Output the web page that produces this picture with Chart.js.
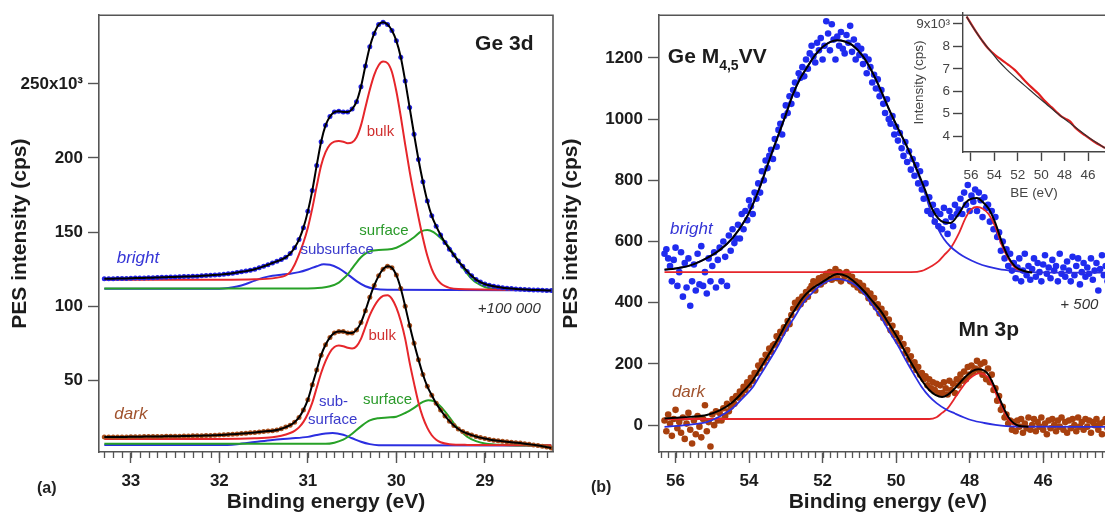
<!DOCTYPE html>
<html>
<head>
<meta charset="utf-8">
<script src="https://cdn.jsdelivr.net/npm/chart.js@4.4.0/dist/chart.umd.min.js"></script>
<style>
  html, body { margin: 0; padding: 0; background: #fff; overflow: hidden; width: 1105px; height: 514px; }
  canvas { position: absolute; }
  .tag { position: absolute; font: bold 16px "Liberation Sans", Arial, sans-serif; color: #222; }
</style>
</head>
<body>
<canvas id="ge3d" width="560" height="514" style="left:0;top:0"></canvas>
<canvas id="mvv" width="560" height="514" style="left:560px;top:0"></canvas>
<canvas id="inset" width="240" height="210" style="left:880px;top:0"></canvas>
<div class="tag" style="left:37px;top:479px">(a)</div>
<div class="tag" style="left:591px;top:478px">(b)</div>
<script>
// ---- tick values
const geXTicks = [33, 32, 31, 30, 29];
const geYTicks = [50, 100, 150, 200, 250];
const mvvXTicks = [56, 54, 52, 50, 48, 46];
const mvvYTicks = [0, 200, 400, 600, 800, 1000, 1200];
const insetXTicks = [56, 54, 52, 50, 48, 46];
const insetYTicks = [4, 5, 6, 7, 8, 9];

// ---- (a) Ge 3d: measured spectra, 0.05 eV grid from 33.30 eV down to 28.25 eV (x10^3 cps)
const geStart = 33.30, geStep = 0.05;
const geBright = [
  118.5, 118.6, 118.6, 118.7, 118.8, 118.8, 118.9, 119.0, 119.0, 119.1,
  119.2, 119.3, 119.4, 119.5, 119.6, 119.7, 119.8, 119.9, 120.0, 120.1,
  120.2, 120.3, 120.5, 120.7, 120.9, 121.1, 121.3, 121.6, 121.9, 122.3,
  122.7, 123.2, 123.7, 124.3, 125.0, 125.9, 126.9, 128.0, 129.2, 130.3,
  131.5, 133.0, 135.5, 139.5, 145, 153, 164, 178, 195, 211,
  222, 228, 231, 231.5, 231, 231, 233, 238, 248, 262,
  275, 284, 290, 291.5, 290, 286, 279, 268, 252, 234,
  216, 199, 184, 171, 161, 154, 148, 143, 138.5, 134.5,
  130.5, 127, 123.5, 120.5, 118, 116.3, 115, 114.2, 113.5, 113,
  112.5, 112.2, 111.9, 111.7, 111.5, 111.3, 111.1, 111.0, 110.9, 110.8,
  110.7, 110.6
];
const geDark = [
  11.8, 11.8, 11.8, 11.9, 11.9, 11.9, 12.0, 12.0, 12.0, 12.1,
  12.1, 12.1, 12.2, 12.2, 12.3, 12.3, 12.4, 12.4, 12.5, 12.5,
  12.6, 12.6, 12.7, 12.8, 12.9, 13.0, 13.1, 13.3, 13.5, 13.7,
  13.9, 14.1, 14.3, 14.6, 14.9, 15.2, 15.5, 15.8, 16.1, 16.6,
  17.4, 18.5, 19.8, 21.8, 25, 30, 37, 47, 57, 67,
  74, 79, 82, 83, 83, 82, 82, 84, 89, 97,
  106, 114, 120.5, 125, 127, 126, 121, 112, 100, 87,
  75, 64, 54, 46, 40, 34.5, 30, 26, 22.5, 19.5,
  17.2, 15.5, 14.2, 13.1, 12.2, 11.4, 10.8, 10.2, 9.7, 9.3,
  9.0, 8.6, 8.3, 8.0, 7.7, 7.3, 6.9, 6.5, 6.1, 5.6,
  5.0, 4.4
];
// fitted components [BE, intensity]
const bulkBright = [[33.30,117.8],[32.00,117.9],[31.60,118.2],[31.40,118.8],[31.30,119.8],[31.25,120.8],[31.20,123],[31.15,128],[31.10,135],[31.05,143],[31.00,153],[30.95,166],[30.90,181],[30.85,195],[30.80,204],[30.75,209],[30.70,211],[30.65,211.5],[30.60,211],[30.55,210],[30.50,210.5],[30.45,214],[30.40,222],[30.35,234],[30.30,246],[30.25,256],[30.20,262.5],[30.15,265],[30.10,264],[30.05,258],[30.00,245],[29.95,228],[29.90,209],[29.85,191],[29.80,175],[29.75,160],[29.70,146],[29.65,134],[29.60,125],[29.55,119],[29.50,115.5],[29.45,113.5],[29.40,112.4],[29.30,111.6],[28.25,111]];
const surfBright = [[33.30,112],[31.00,112],[30.85,112.5],[30.75,113.5],[30.65,116],[30.60,118.5],[30.55,121.5],[30.50,125.5],[30.45,129.5],[30.40,133],[30.35,135.5],[30.30,137],[30.20,138],[30.10,138.2],[30.00,139.5],[29.90,142.5],[29.80,146.5],[29.72,150.5],[29.65,151.5],[29.58,150],[29.50,146],[29.45,143],[29.40,139.5],[29.35,135],[29.30,130.5],[29.25,126],[29.20,122],[29.15,118.5],[29.10,116],[29.00,113],[28.90,111.8],[28.25,111]];
const subBright = [[33.30,111.8],[32.00,111.8],[31.90,112.3],[31.80,113.3],[31.70,115],[31.60,117.3],[31.50,119.3],[31.40,120.6],[31.30,121.3],[31.20,121.9],[31.10,123],[31.00,124.8],[30.90,127],[30.82,128.3],[30.75,128],[30.65,125.5],[30.55,121.5],[30.45,117],[30.35,113.5],[30.25,111.8],[30.10,111.1],[28.25,110.8]];
const bulkDark = [[33.30,10.4],[32.00,10.5],[31.60,10.9],[31.40,11.6],[31.30,12.6],[31.20,14.5],[31.15,16],[31.10,18.3],[31.05,22],[31.00,27.5],[30.95,35],[30.90,45],[30.85,55],[30.80,63],[30.75,69],[30.70,72.5],[30.65,73.5],[30.60,73],[30.55,72],[30.50,71.5],[30.45,73],[30.40,78],[30.35,86],[30.30,94],[30.25,100],[30.20,104.5],[30.15,107],[30.10,107.5],[30.05,105],[30.00,99],[29.95,90],[29.90,78],[29.85,62],[29.80,48],[29.75,35],[29.70,25],[29.65,18],[29.60,13],[29.55,10],[29.50,8.3],[29.40,7],[29.20,6.5],[28.25,6.3]];
const surfDark = [[33.30,7.2],[30.80,7.2],[30.70,8],[30.60,10],[30.50,14],[30.40,19],[30.30,23],[30.20,24.5],[30.10,25],[30.00,25.5],[29.90,28],[29.80,31.5],[29.70,35.5],[29.64,36.6],[29.58,36],[29.52,33.5],[29.45,29],[29.40,25],[29.35,21],[29.30,17.5],[29.20,12],[29.10,9],[29.00,7.5],[28.80,6.5],[28.25,6]];
const subDark = [[33.30,6.4],[32.00,6.4],[31.80,7],[31.60,8.4],[31.40,9.8],[31.20,10.8],[31.00,11.9],[30.90,13.2],[30.80,14.2],[30.72,14.5],[30.60,13.3],[30.50,11],[30.40,8.6],[30.30,7],[30.20,6.3],[28.25,6]];

// ---- (b) Ge M4,5VV / Mn 3p: measured spectra, 0.05 eV grid from 56.30 eV down to 44.00 eV (cps)
const mvvStart = 56.30, mvvStep = 0.05;
const mvvBright = [
  560, 575, 545, 520, 470, 540, 580, 455, 500, 565,
  420, 530, 450, 545, 390, 470, 525, 440, 560, 460,
  585, 455, 500, 430, 545, 470, 520, 565, 450, 540,
  580, 470, 600, 550, 455, 620, 570, 640, 595, 610,
  655, 610, 690, 640, 700, 670, 735, 715, 690, 760,
  740, 790, 760, 830, 800, 865, 840, 880, 900, 870,
  935, 910, 965, 985, 950, 1010, 1045, 1020, 1075, 1050,
  1095, 1120, 1080, 1150, 1135, 1170, 1140, 1195, 1165, 1215,
  1240, 1205, 1185, 1250, 1225, 1265, 1195, 1240, 1320, 1280,
  1225, 1310, 1260, 1195, 1270, 1240, 1285, 1230, 1215, 1275,
  1250, 1305, 1220, 1260, 1195, 1240, 1210, 1230, 1180, 1205,
  1150, 1195, 1170, 1120, 1145, 1100, 1130, 1075, 1095, 1050,
  1020, 1065, 1000, 985, 1010, 950, 975, 930, 955, 905,
  880, 925, 860, 895, 835, 870, 815, 850, 790, 830,
  770, 740, 790, 700, 745, 690, 720, 665, 700, 650,
  690, 640, 710, 665, 625, 700, 680, 650, 720, 690,
  705, 740, 690, 760, 720, 785, 700, 750, 730, 770,
  700, 760, 735, 680, 745, 710, 720, 665, 700, 640,
  680, 615, 630, 570, 600, 545, 575, 520, 560, 505,
  530, 480, 515, 545, 470, 505, 560, 490, 520, 475,
  510, 545, 485, 530, 500, 470, 525, 555, 495, 515,
  480, 540, 505, 520, 470, 560, 495, 515, 485, 535,
  505, 470, 550, 490, 520, 545, 460, 500, 530, 485,
  515, 495, 545, 475, 505, 530, 440, 510, 555, 490,
  520, 470, 505, 540, 485, 515, 500
];
const mvvDark = [
  15, -20, 35, 5, -35, 20, 50, -10, 10, -25,
  25, -45, 5, 40, -15, -60, 15, -30, 30, -5,
  -40, 20, 65, -20, 10, -70, 35, 0, 45, 15,
  40, 15, 55, 30, 70, 45, 60, 85, 70, 95,
  90, 110, 100, 125, 115, 140, 130, 155, 145, 170,
  170, 195, 185, 210, 205, 230, 220, 250, 240, 260,
  265, 290, 280, 305, 300, 320, 315, 340, 330, 360,
  380, 400, 385, 410, 395, 420, 410, 435, 420, 445,
  455, 470, 440, 465, 480, 460, 485, 470, 495, 480,
  500, 475, 495, 510, 480, 500, 470, 495, 485, 500,
  490, 470, 485, 460, 470, 450, 465, 440, 455, 435,
  440, 415, 430, 400, 415, 385, 395, 365, 380, 350,
  365, 335, 345, 310, 325, 295, 300, 275, 285, 260,
  265, 235, 245, 215, 225, 195, 205, 180, 190, 165,
  170, 150, 160, 130, 150, 120, 140, 115, 135, 105,
  130, 105, 140, 120, 100, 145, 115, 135, 105, 150,
  130, 165, 145, 175, 150, 190, 165, 195, 175, 185,
  210, 180, 200, 165, 205, 150, 185, 140, 165, 115,
  120, 80, 95, 50, 60, 25, 35, 5, 15, -15,
  10, -20, 15, -5, 20, -25, 5, -10, 25, -15,
  0, 20, -20, 10, -5, 25, -15, 5, -30, 15,
  -10, 20, 0, -20, 15, -5, 25, -15, 10, -25,
  15, -10, 20, 0, -20, 25, -5, 10, -15, 20,
  -5, 15, -25, 10, 0, 20, -15, 5, -30, 10,
  20, -10, 5, -20, 15, 0, -35
];
const fitBright = [[56.30,508],[56.00,512],[55.60,522],[55.15,546],[54.80,572],[54.45,611],[54.10,672],[53.90,721],[53.70,780],[53.53,839],[53.35,900],[53.17,959],[53.00,1015],[52.81,1080],[52.60,1135],[52.45,1164],[52.20,1210],[52.00,1236],[51.80,1252],[51.60,1258],[51.40,1254],[51.19,1242],[50.90,1205],[50.65,1154],[50.40,1090],[50.20,1034],[49.95,970],[49.73,917],[49.55,868],[49.38,819],[49.20,765],[49.03,709],[48.85,675],[48.70,663],[48.52,661],[48.30,690],[48.10,728],[47.95,740],[47.80,742],[47.65,730],[47.48,707],[47.30,660],[47.13,600],[46.95,550],[46.76,518],[46.50,503],[46.30,499]];
const augerBright = [[56.30,508],[56.00,512],[55.60,522],[55.15,546],[54.80,572],[54.45,611],[54.10,672],[53.90,721],[53.70,780],[53.53,839],[53.35,900],[53.17,959],[53.00,1015],[52.81,1080],[52.60,1135],[52.45,1164],[52.20,1210],[52.00,1236],[51.80,1252],[51.60,1258],[51.40,1254],[51.19,1242],[50.90,1205],[50.65,1154],[50.40,1090],[50.20,1034],[49.95,970],[49.73,917],[49.55,866],[49.38,813],[49.20,752],[49.03,689],[48.85,640],[48.70,608],[48.52,583],[48.30,562],[48.10,547],[47.80,530],[47.50,518],[47.20,510],[46.80,504],[46.40,500],[44.00,498]];
const mn3pBright = [[56.30,500],[49.60,500],[49.30,504],[49.03,520],[48.85,535],[48.70,555],[48.52,578],[48.30,625],[48.10,680],[47.95,706],[47.80,713],[47.65,708],[47.48,689],[47.30,648],[47.13,590],[46.95,545],[46.76,514],[46.55,503],[46.30,500]];
const fitDark = [[56.30,22],[56.00,24],[55.60,27],[55.15,33],[54.80,48],[54.45,75],[54.20,105],[53.90,146],[53.70,185],[53.45,234],[53.20,285],[52.99,332],[52.75,378],[52.54,416],[52.30,445],[52.08,462],[51.85,480],[51.60,494],[51.35,487],[51.09,464],[50.85,435],[50.65,406],[50.40,370],[50.20,332],[49.95,283],[49.73,234],[49.50,185],[49.30,146],[49.10,115],[48.92,98],[48.75,92],[48.60,99],[48.45,114],[48.30,134],[48.10,160],[47.94,176],[47.76,183],[47.60,178],[47.48,163],[47.35,132],[47.20,91],[47.05,50],[46.94,25],[46.80,6],[46.67,-2],[46.40,-5]];
const augerDark = [[56.30,-6],[55.60,2],[55.15,10],[54.80,28],[54.45,55],[54.20,85],[53.90,124],[53.70,163],[53.45,211],[53.20,262],[52.99,309],[52.75,356],[52.54,397],[52.30,430],[52.08,455],[51.85,471],[51.60,478],[51.35,472],[51.09,456],[50.85,426],[50.65,392],[50.40,350],[50.20,309],[49.95,260],[49.73,211],[49.50,163],[49.30,124],[49.10,94],[48.90,72],[48.65,52],[48.40,38],[48.15,25],[47.94,16],[47.60,7],[47.30,1],[47.00,-3],[46.50,-5],[44.00,-6]];
const mn3pDark = [[56.30,20],[49.10,20],[48.90,26],[48.75,40],[48.60,55],[48.45,80],[48.30,107],[48.10,140],[47.94,158],[47.75,169],[47.60,165],[47.48,153],[47.35,120],[47.20,81],[47.05,42],[46.94,18],[46.80,3],[46.67,-3],[46.40,-5]];

// ---- inset: raw background region (x10^3 cps)
const insetRaw = [[56.37,9.33],[55.50,8.60],[55.09,8.29],[54.60,7.95],[54.20,7.74],[53.80,7.56],[53.38,7.40],[52.80,7.18],[52.24,6.94],[51.80,6.70],[51.38,6.46],[50.80,6.16],[50.25,5.90],[49.70,5.57],[49.10,5.28],[48.60,5.03],[48.25,4.87],[47.80,4.74],[47.50,4.64],[47.20,4.44],[46.90,4.29],[46.30,4.05],[45.50,3.76],[44.55,3.47]];
const insetBg = [[56.37,9.33],[56.00,9.00],[55.50,8.60],[55.09,8.29],[54.50,7.90],[54.00,7.58],[53.66,7.36],[53.00,7.00],[52.50,6.75],[51.96,6.50],[51.00,6.07],[50.25,5.73],[49.50,5.40],[48.82,5.10],[48.00,4.76],[47.40,4.52],[46.70,4.24],[45.97,3.95],[45.20,3.68],[44.55,3.47]];

const FONT = '"Liberation Sans", Arial, Helvetica, sans-serif';
const AXIS = '#555';
const INK = '#1c1c1c';
const RED = '#e6262b', GREEN = '#27a127', BLUE = '#2b2ee0';

const pts = pairs => pairs.map(([x, y]) => ({ x, y }));
const onGrid = (start, step, vals) => vals.map((y, i) => ({ x: +(start - i * step).toFixed(2), y }));

function curve(data, color, width, order) {
  return { data, borderColor: color, borderWidth: width, pointRadius: 0, fill: false,
           cubicInterpolationMode: 'monotone', order };
}
function dots(data, color, r, order) {
  return { data, showLine: false, pointRadius: r, pointHoverRadius: r, pointBackgroundColor: color,
           pointBorderWidth: 0, borderColor: color, order };
}

// top + right edges of the plot box
const frame = {
  id: 'frame',
  afterDraw(chart, args, opts) {
    if (!opts.on) return;
    const { ctx, chartArea: a } = chart;
    ctx.save();
    ctx.strokeStyle = AXIS; ctx.lineWidth = 1.6;
    ctx.beginPath();
    ctx.moveTo(a.left, a.top); ctx.lineTo(a.right, a.top); ctx.lineTo(a.right, a.bottom);
    ctx.stroke();
    ctx.restore();
  }
};

// short minor tick marks under the x axis
const minorTicks = {
  id: 'minorTicks',
  afterDraw(chart, args, opts) {
    if (!opts.step) return;
    const x = chart.scales.x, ctx = chart.ctx;
    const lo = Math.ceil(x.min / opts.step - 1e-6), hi = Math.floor(x.max / opts.step + 1e-6);
    ctx.save();
    ctx.strokeStyle = AXIS; ctx.lineWidth = 1.3;
    ctx.beginPath();
    for (let k = lo; k <= hi; k++) {
      const px = Math.round(x.getPixelForValue(k * opts.step)) + 0.5;
      ctx.moveTo(px, x.top); ctx.lineTo(px, x.top + opts.len);
    }
    ctx.stroke();
    ctx.restore();
  }
};

// text placed at data coordinates
function textLayer(items) {
  return {
    id: 'textLayer',
    afterDatasetsDraw(chart) {
      const { ctx, scales: { x, y } } = chart;
      ctx.save();
      ctx.textBaseline = 'middle';
      for (const it of items) {
        const runs = it.runs || [[it.text, it.size, 0]];
        const fonts = runs.map(r => `${it.style || 'normal'} ${it.weight || 'normal'} ${r[1]}px ${FONT}`);
        let w = 0;
        runs.forEach((r, i) => { ctx.font = fonts[i]; w += ctx.measureText(r[0]).width; });
        let px = x.getPixelForValue(it.x);
        const py = y.getPixelForValue(it.y);
        if (it.align === 'right') px -= w; else if (it.align !== 'left') px -= w / 2;
        ctx.fillStyle = it.color;
        runs.forEach((r, i) => { ctx.font = fonts[i]; ctx.fillText(r[0], px, py + r[2]); px += ctx.measureText(r[0]).width; });
      }
      ctx.restore();
    }
  };
}

function axis(o) {
  return {
    type: 'linear', min: o.min, max: o.max, reverse: !!o.reverse,
    afterFit: o.fit,
    afterBuildTicks: s => { s.ticks = o.values.map(v => ({ value: v })); },
    grid: { display: true, drawOnChartArea: false, drawTicks: true, tickLength: o.tick, tickColor: o.color || AXIS, tickWidth: 1.4 },
    border: { display: true, color: o.color || AXIS, width: o.lw || 1.6 },
    ticks: { autoSkip: false, maxRotation: 0, padding: o.pad,
             color: o.ink || INK, font: o.font, callback: o.label || (v => String(v)) },
    title: { display: true, text: o.title, color: o.ink || INK, font: o.titleFont, padding: o.titlePad }
  };
}

const tickFont = { family: FONT, size: 17, weight: 'bold' };
const titleFont = { family: FONT, size: 21, weight: 'bold', lineHeight: 1.1 };

const geLabels = [
  { text: 'Ge 3d', x: 29.11, y: 276.8, size: 21, weight: 'bold', color: INK, align: 'left' },
  { text: 'bright', x: 32.92, y: 132.6, size: 17, style: 'italic', color: '#3434d6' },
  { text: 'subsurface', x: 30.67, y: 138, size: 15, color: '#3a3acc' },
  { text: 'surface', x: 30.14, y: 151, size: 15, color: '#2a9a2a' },
  { text: 'bulk', x: 30.18, y: 217.8, size: 15, color: '#d03030' },
  { text: '+100 000', x: 29.08, y: 98.4, size: 15, style: 'italic', color: '#333', align: 'left' },
  { text: 'dark', x: 33.0, y: 27, size: 17, style: 'italic', color: '#a0522d' },
  { text: 'bulk', x: 30.16, y: 80.2, size: 15, color: '#d03030' },
  { text: 'sub-', x: 30.71, y: 35.4, size: 15, color: '#3a3acc' },
  { text: 'surface', x: 30.72, y: 23.2, size: 15, color: '#3a3acc' },
  { text: 'surface', x: 30.10, y: 36.6, size: 15, color: '#2a9a2a' }
];
const mvvLabels = [
  { runs: [['Ge M', 21, 0], ['4,5', 14, 9], ['VV', 21, 0]], x: 56.21, y: 1203, weight: 'bold', color: INK, align: 'left' },
  { text: 'bright', x: 55.57, y: 641, size: 17, style: 'italic', color: '#3434d6' },
  { text: '+ 500', x: 44.5, y: 393, size: 15, style: 'italic', color: '#333', align: 'right' },
  { text: 'Mn 3p', x: 47.48, y: 309, size: 21, weight: 'bold', color: INK },
  { text: 'dark', x: 55.65, y: 107, size: 17, style: 'italic', color: '#a0522d' }
];

const base = { responsive: false, animation: false, devicePixelRatio: 1, events: [] };

// (a) Ge 3d
new Chart(document.getElementById('ge3d'), {
  type: 'line',
  data: { datasets: [
    curve(pts(bulkBright), RED, 2, 3), curve(pts(surfBright), GREEN, 2, 3), curve(pts(subBright), BLUE, 2, 3),
    curve(pts(bulkDark), RED, 2, 3), curve(pts(surfDark), GREEN, 2, 3), curve(pts(subDark), BLUE, 2, 3),
    dots(onGrid(geStart, geStep, geBright), '#2424e6', 2.5, 2),
    dots(onGrid(geStart, geStep, geDark), '#a8501e', 2.5, 2),
    curve(onGrid(geStart, geStep, geBright), '#000', 2, 1),
    curve(onGrid(geStart, geStep, geDark), '#000', 2, 1)
  ]},
  options: { ...base,
    layout: { padding: { left: 0, top: 13, right: 7, bottom: 0 } },
    plugins: { legend: { display: false }, tooltip: { enabled: false }, frame: { on: true }, minorTicks: { step: 0.1, len: 6 } },
    scales: {
      x: axis({ min: 28.23, max: 33.36, reverse: true, values: geXTicks, tick: 11, pad: 8, font: tickFont,
                fit: s => { s.height = 62; }, title: 'Binding energy (eV)', titleFont, titlePad: { top: 0, bottom: 0 } }),
      y: axis({ min: 1.7, max: 296.3, values: geYTicks, tick: 11, pad: 5, font: tickFont,
                label: v => v === 250 ? '250x10³' : String(v),
                fit: s => { s.width = 99; }, title: 'PES intensity (cps)', titleFont, titlePad: { top: 8.5, bottom: 0 } })
    }
  },
  plugins: [frame, minorTicks, textLayer(geLabels)]
});

// (b) Ge M4,5VV and Mn 3p
new Chart(document.getElementById('mvv'), {
  type: 'line',
  data: { datasets: [
    dots(onGrid(mvvStart, mvvStep, mvvBright), '#1f2bef', 3.3, 3),
    dots(onGrid(mvvStart, mvvStep, mvvDark), '#a8400e', 3.3, 3),
    curve(pts(augerBright), BLUE, 1.8, 2), curve(pts(mn3pBright), RED, 1.8, 2),
    curve(pts(augerDark), BLUE, 1.8, 2), curve(pts(mn3pDark), RED, 1.8, 2),
    curve(pts(fitBright), '#000', 2, 1), curve(pts(fitDark), '#000', 2, 1)
  ]},
  options: { ...base,
    layout: { padding: { left: 0, top: 13, right: 2, bottom: 0 } },
    plugins: { legend: { display: false }, tooltip: { enabled: false }, frame: { on: true }, minorTicks: { step: 0.2, len: 6 } },
    scales: {
      x: axis({ min: 44.0, max: 56.45, reverse: true, values: mvvXTicks, tick: 11, pad: 8, font: tickFont,
                fit: s => { s.height = 62; }, title: 'Binding energy (eV)', titleFont, titlePad: { top: 0, bottom: 0 } }),
      y: axis({ min: -87.8, max: 1339.8, values: mvvYTicks, tick: 11, pad: 5, font: tickFont,
                fit: s => { s.width = 99; }, title: 'PES intensity (cps)', titleFont, titlePad: { top: 0, bottom: 0 } })
    }
  },
  plugins: [frame, minorTicks, textLayer(mvvLabels)]
});

// inset: raw spectrum and background
const insetTick = { family: FONT, size: 13.5 };
new Chart(document.getElementById('inset'), {
  type: 'line',
  data: { datasets: [
    curve(pts(insetRaw), '#e01e1e', 2.2, 2),
    curve(pts(insetBg), '#333', 1.2, 1)
  ]},
  options: { ...base,
    layout: { padding: { left: 0, top: 13, right: 15, bottom: 0 } },
    plugins: { legend: { display: false }, tooltip: { enabled: false }, frame: { on: false }, minorTicks: { step: 0 } },
    scales: {
      x: axis({ min: 44.55, max: 56.68, reverse: true, values: insetXTicks, tick: 9, pad: 6, font: insetTick, ink: '#444', color: '#444', lw: 1.4,
                fit: s => { s.height = 58; }, title: 'BE (eV)', titleFont: insetTick, titlePad: { top: 0, bottom: 9 } }),
      y: axis({ min: 3.29, max: 9.49, values: insetYTicks, tick: 10, pad: 3, font: insetTick, ink: '#444', color: '#444', lw: 1.4,
                label: v => v === 9 ? '9x10³' : String(v),
                fit: s => { s.width = 83; }, title: 'Intensity (cps)', titleFont: insetTick, titlePad: { top: 31, bottom: 0 } })
    }
  },
  plugins: [minorTicks]
});
</script>
</body>
</html>
